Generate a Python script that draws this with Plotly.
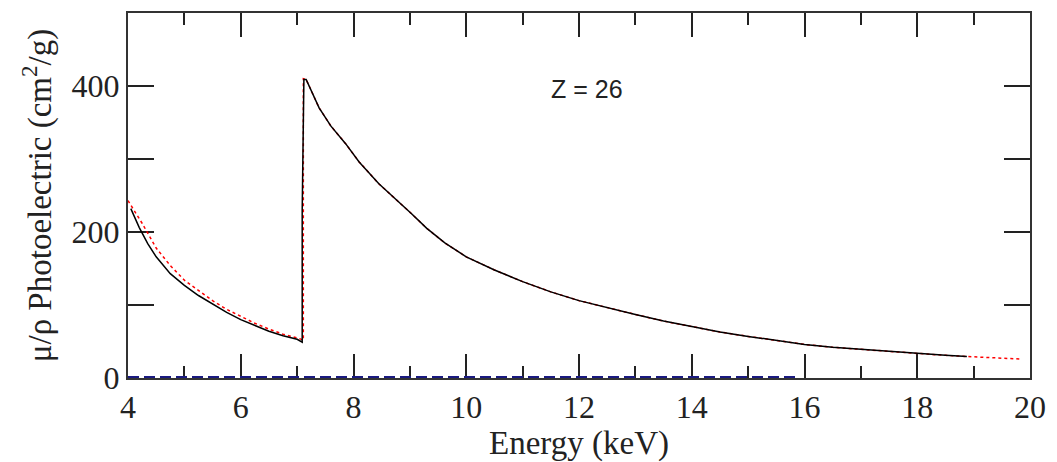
import plotly.graph_objects as go

# Series A (black solid)
energy_a = [4.05, 4.2, 4.35, 4.5, 4.75, 5.0, 5.25, 5.5, 5.75, 6.0, 6.25, 6.5, 6.75, 7.0, 7.09,
            7.09, 7.12, 7.16, 7.39, 7.6, 7.86, 8.1, 8.45, 8.75, 9.03, 9.3, 9.62, 10.0, 10.5,
            11.0, 11.5, 12.0, 12.5, 13.0, 13.5, 14.0, 14.5, 15.0, 15.5, 16.0, 16.5, 17.0,
            17.5, 18.0, 18.5, 18.88]
mu_a = [232, 206, 184, 166, 143, 127, 113, 101, 90, 80, 72, 64, 58, 53, 49,
        230, 409, 409, 370, 345, 321, 296, 266, 245, 225, 205, 185, 166, 148,
        132, 118, 106, 96, 87, 78, 70, 63, 57, 51, 46, 42, 39,
        36, 33, 31, 29.5]

# Series B (red dotted)
energy_b = [4.0, 4.25, 4.5, 4.75, 5.0, 5.25, 5.5, 5.75, 6.0, 6.25, 6.5, 6.75, 7.0, 7.11,
            7.11, 7.16, 7.39, 7.6, 7.86, 8.1, 8.45, 8.75, 9.03, 9.3, 9.62, 10.0, 10.5,
            11.0, 11.5, 12.0, 12.5, 13.0, 13.5, 14.0, 14.5, 15.0, 15.5, 16.0, 16.5, 17.0,
            17.5, 18.0, 18.5, 19.0, 19.5, 19.82]
mu_b = [243, 212, 178, 154, 134, 120, 106, 94, 84, 75, 67, 60, 55, 52,
        410, 409, 370, 345, 321, 296, 266, 245, 225, 205, 185, 166, 148,
        132, 118, 106, 96, 87, 78, 70, 63, 57, 51, 46, 42, 39,
        36, 33, 31, 29, 27, 26]

# Series C (blue dashed)
energy_c = [4.0, 15.9]
mu_c = [0.8, 0.8]

x_ticks = [4, 6, 8, 10, 12, 14, 16, 18, 20]
y_ticks = [0, 200, 400]

fig = go.Figure()
fig.add_trace(go.Scatter(x=energy_b, y=mu_b, mode="lines",
                         line=dict(color="#ff0000", width=1.5, dash="dot")))
fig.add_trace(go.Scatter(x=energy_a, y=mu_a, mode="lines",
                         line=dict(color="#000000", width=1.5)))
fig.add_trace(go.Scatter(x=energy_c, y=mu_c, mode="lines",
                         line=dict(color="#1a1a80", width=3, dash="11px,5px")))

serif = "Liberation Serif"
fig.update_layout(
    width=1057, height=462,
    margin=dict(l=128, r=22, t=11, b=83),
    paper_bgcolor="white", plot_bgcolor="white",
    showlegend=False,
    font=dict(family=serif, color="#222"),
)
fig.update_xaxes(
    range=[4, 20], tickvals=x_ticks, ticktext=[str(v) for v in x_ticks],
    ticks="inside", ticklen=24, tickwidth=1.5, tickcolor="#222",
    minor=dict(dtick=1, ticklen=12, tickwidth=1.5, tickcolor="#222", ticks="inside"),
    showline=True, linecolor="#333", linewidth=2, mirror="ticks",
    showgrid=False, zeroline=False, layer="below traces",
    tickfont=dict(family=serif, size=32, color="#222"),
    title=dict(text="Energy (keV)", font=dict(family=serif, size=33, color="#222"), standoff=2),
)
fig.update_yaxes(
    range=[0, 500], tickvals=y_ticks, ticktext=[str(v) for v in y_ticks],
    ticks="inside", ticklen=26, tickwidth=1.5, tickcolor="#222",
    minor=dict(dtick=100, ticklen=26, tickwidth=1.5, tickcolor="#222", ticks="inside"),
    showline=True, linecolor="#333", linewidth=2, mirror="ticks",
    showgrid=False, zeroline=False, layer="below traces",
    tickfont=dict(family=serif, size=32, color="#222"),
    title=dict(text="μ/ρ Photoelectric (cm<sup>2</sup>/g)", font=dict(family=serif, size=33, color="#222"), standoff=10),
)
fig.add_annotation(x=12.15, y=396, text="Z = 26", showarrow=False,
                   font=dict(family="Liberation Sans", size=25, color="#222"))

fig.write_html("out.html")
